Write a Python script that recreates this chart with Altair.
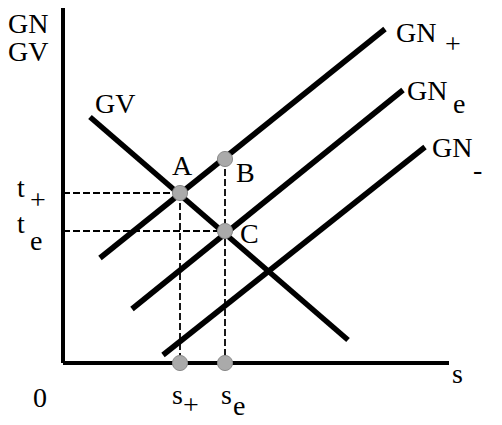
import altair as alt
import pandas as pd

# Curves (s, t) endpoints
curve_names = ["GN+", "GNe", "GN-", "GV"]
curve_s0 = [37, 69, 100, 27]
curve_t0 = [105, 54, 8, 246]
curve_s1 = [322, 340, 362, 285]
curve_t1 = [334, 273, 216, 23]

# Axes
axis_s0 = [0, 0]
axis_t0 = [0, 0]
axis_s1 = [0, 386]
axis_t1 = [356, 0]

# Dashed guide lines
guide_s0 = [0, 0, 117, 162]
guide_t0 = [170, 132, 170, 204]
guide_s1 = [117, 162, 117, 162]
guide_t1 = [170, 132, 0, 0]

# Points A, B, C, s+, se
point_names = ["A", "B", "C", "s+", "se"]
point_s = [117, 162, 162, 117, 162]
point_t = [170, 204, 132, 0, 0]

# Text labels (baseline positions)
label_text = ["GN", "GV", "GV", "GN", "+", "GN", "e", "GN", "-", "A", "B", "C",
              "t", "+", "t", "e", "0", "s", "s", "+", "s", "e"]
label_s = [-55, -55, 32, 333, 382, 344, 390, 369, 410, 109, 173, 177,
           -46, -33, -46, -33, -30, 389, 109, 120, 158, 170]
label_t = [330, 302, 250, 321, 310, 263, 250, 206, 184, 188, 181, 120,
           166, 154, 130, 113, -44, -20, -41, -51, -41, -52]

XD = [-55, 431]
YD = [-62, 355]

curves = pd.DataFrame({"name": curve_names, "s0": curve_s0, "t0": curve_t0,
                       "s1": curve_s1, "t1": curve_t1})
axes = pd.DataFrame({"s0": axis_s0, "t0": axis_t0, "s1": axis_s1, "t1": axis_t1})
guides = pd.DataFrame({"s0": guide_s0, "t0": guide_t0, "s1": guide_s1, "t1": guide_t1})
points = pd.DataFrame({"name": point_names, "s": point_s, "t": point_t})
labels = pd.DataFrame({"text": label_text, "s": label_s, "t": label_t})

xs = alt.Scale(domain=XD, nice=False, zero=False)
ys = alt.Scale(domain=YD, nice=False, zero=False)


def seg(df, **kw):
    return alt.Chart(df).mark_rule(**kw).encode(
        x=alt.X("s0:Q", scale=xs, axis=None),
        y=alt.Y("t0:Q", scale=ys, axis=None),
        x2="s1:Q",
        y2="t1:Q",
    )


guide_layer = seg(guides, color="black", strokeWidth=1.8, strokeDash=[7, 3])
curve_layer = seg(curves, color="black", strokeWidth=5.5)
axis_layer = seg(axes, color="black", strokeWidth=4)

point_layer = alt.Chart(points).mark_point(
    filled=True, fill="#aaaaaa", stroke="#8a8a8a", strokeWidth=1, size=230, opacity=1
).encode(
    x=alt.X("s:Q", scale=xs, axis=None),
    y=alt.Y("t:Q", scale=ys, axis=None),
)

text_layer = alt.Chart(labels).mark_text(
    font="Liberation Serif", fontSize=28, align="left", baseline="alphabetic", color="black"
).encode(
    x=alt.X("s:Q", scale=xs, axis=None),
    y=alt.Y("t:Q", scale=ys, axis=None),
    text="text:N",
)

chart = alt.layer(guide_layer, curve_layer, axis_layer, point_layer, text_layer).properties(
    width=486, height=417, padding=0, background="white",
    autosize=alt.AutoSizeParams(type="none"),
).configure_view(stroke=None)

chart.save("out.html", embed_options={"renderer": "svg", "actions": False})
